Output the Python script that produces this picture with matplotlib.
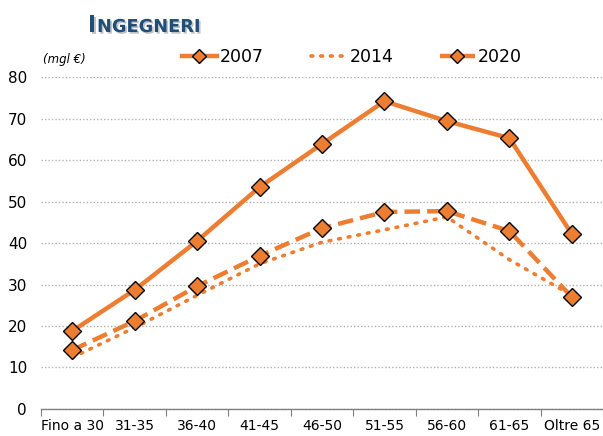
import matplotlib.pyplot as plt
import matplotlib.patheffects as pe

categories = ['Fino a 30', '31-35', '36-40', '41-45', '46-50', '51-55', '56-60', '61-65', 'Oltre 65']
v2007 = [18.8, 28.7, 40.5, 53.5, 63.9, 74.2, 69.4, 65.3, 42.2]
v2014 = [12.4, 19.6, 27.4, 35.0, 40.2, 43.2, 46.3, 36.0, 27.4]
v2020 = [14.2, 21.2, 29.6, 36.9, 43.6, 47.5, 47.7, 42.9, 27.0]

ORANGE = '#ED7D31'

fig = plt.figure(figsize=(6.03, 4.36), dpi=100)
ax = fig.add_axes([0.068, 0.062, 0.932, 0.761])

x = range(len(categories))
ax.plot(x, v2007, color=ORANGE, lw=3.2, marker='D', ms=9,
        mfc=ORANGE, mec='black', mew=1.0, label='2007', zorder=3)
ax.plot(x, v2014, color=ORANGE, lw=2.6, linestyle=(0, (0.5, 2.2)),
        dash_capstyle='round', label='2014', zorder=2)
ax.plot(x, v2020, color=ORANGE, lw=3.2, linestyle=(0, (3.5, 1.6)),
        marker='D', ms=9, mfc=ORANGE, mec='black', mew=1.0,
        label='2020', zorder=3)

ax.set_xlim(-0.5, len(categories) - 0.5)
ax.set_ylim(0, 80)
ax.set_yticks(range(0, 81, 10))
ax.yaxis.grid(True, color='#b0b0b0', linestyle=(0, (1, 1.5)), lw=1.0)
ax.set_axisbelow(True)

for s in ['left', 'right', 'top']:
    ax.spines[s].set_visible(False)
ax.spines['bottom'].set_color('#808080')
ax.spines['bottom'].set_linewidth(1.0)

ax.set_xticks([i + 0.5 for i in range(-1, len(categories))])
ax.set_xticklabels([])
ax.set_xticks(list(x), minor=True)
ax.set_xticklabels(categories, minor=True, fontsize=10)
ax.tick_params(axis='x', which='major', length=5, color='#808080', direction='out')
ax.tick_params(axis='x', which='minor', length=0, pad=7)
ax.tick_params(axis='y', length=0, labelsize=11, pad=10)

leg = ax.legend(loc='lower left', bbox_to_anchor=(182 / 603, 1 - 66 / 436),
                bbox_transform=fig.transFigure, ncol=3, frameon=False,
                fontsize=12.5, handlelength=2.0, handletextpad=0.2,
                columnspacing=2.7, borderpad=0, borderaxespad=0,
                markerscale=0.75)

fig.text(0.072, 0.855, '(mgl €)', fontsize=8.5, style='italic')

shadow = [pe.withSimplePatchShadow(offset=(1.2, -1.2), shadow_rgbFace='#888888', alpha=0.5)]
fig.text(88 / 603, 1 - 32 / 436, 'I', fontsize=16.5, fontweight='bold', color='#1F4E79',
         path_effects=shadow)
fig.text(97 / 603, 1 - 32 / 436, 'NGEGNERI', fontsize=12.8, fontweight='bold', color='#1F4E79',
         path_effects=shadow)

fig.savefig('out.png', dpi=100)
